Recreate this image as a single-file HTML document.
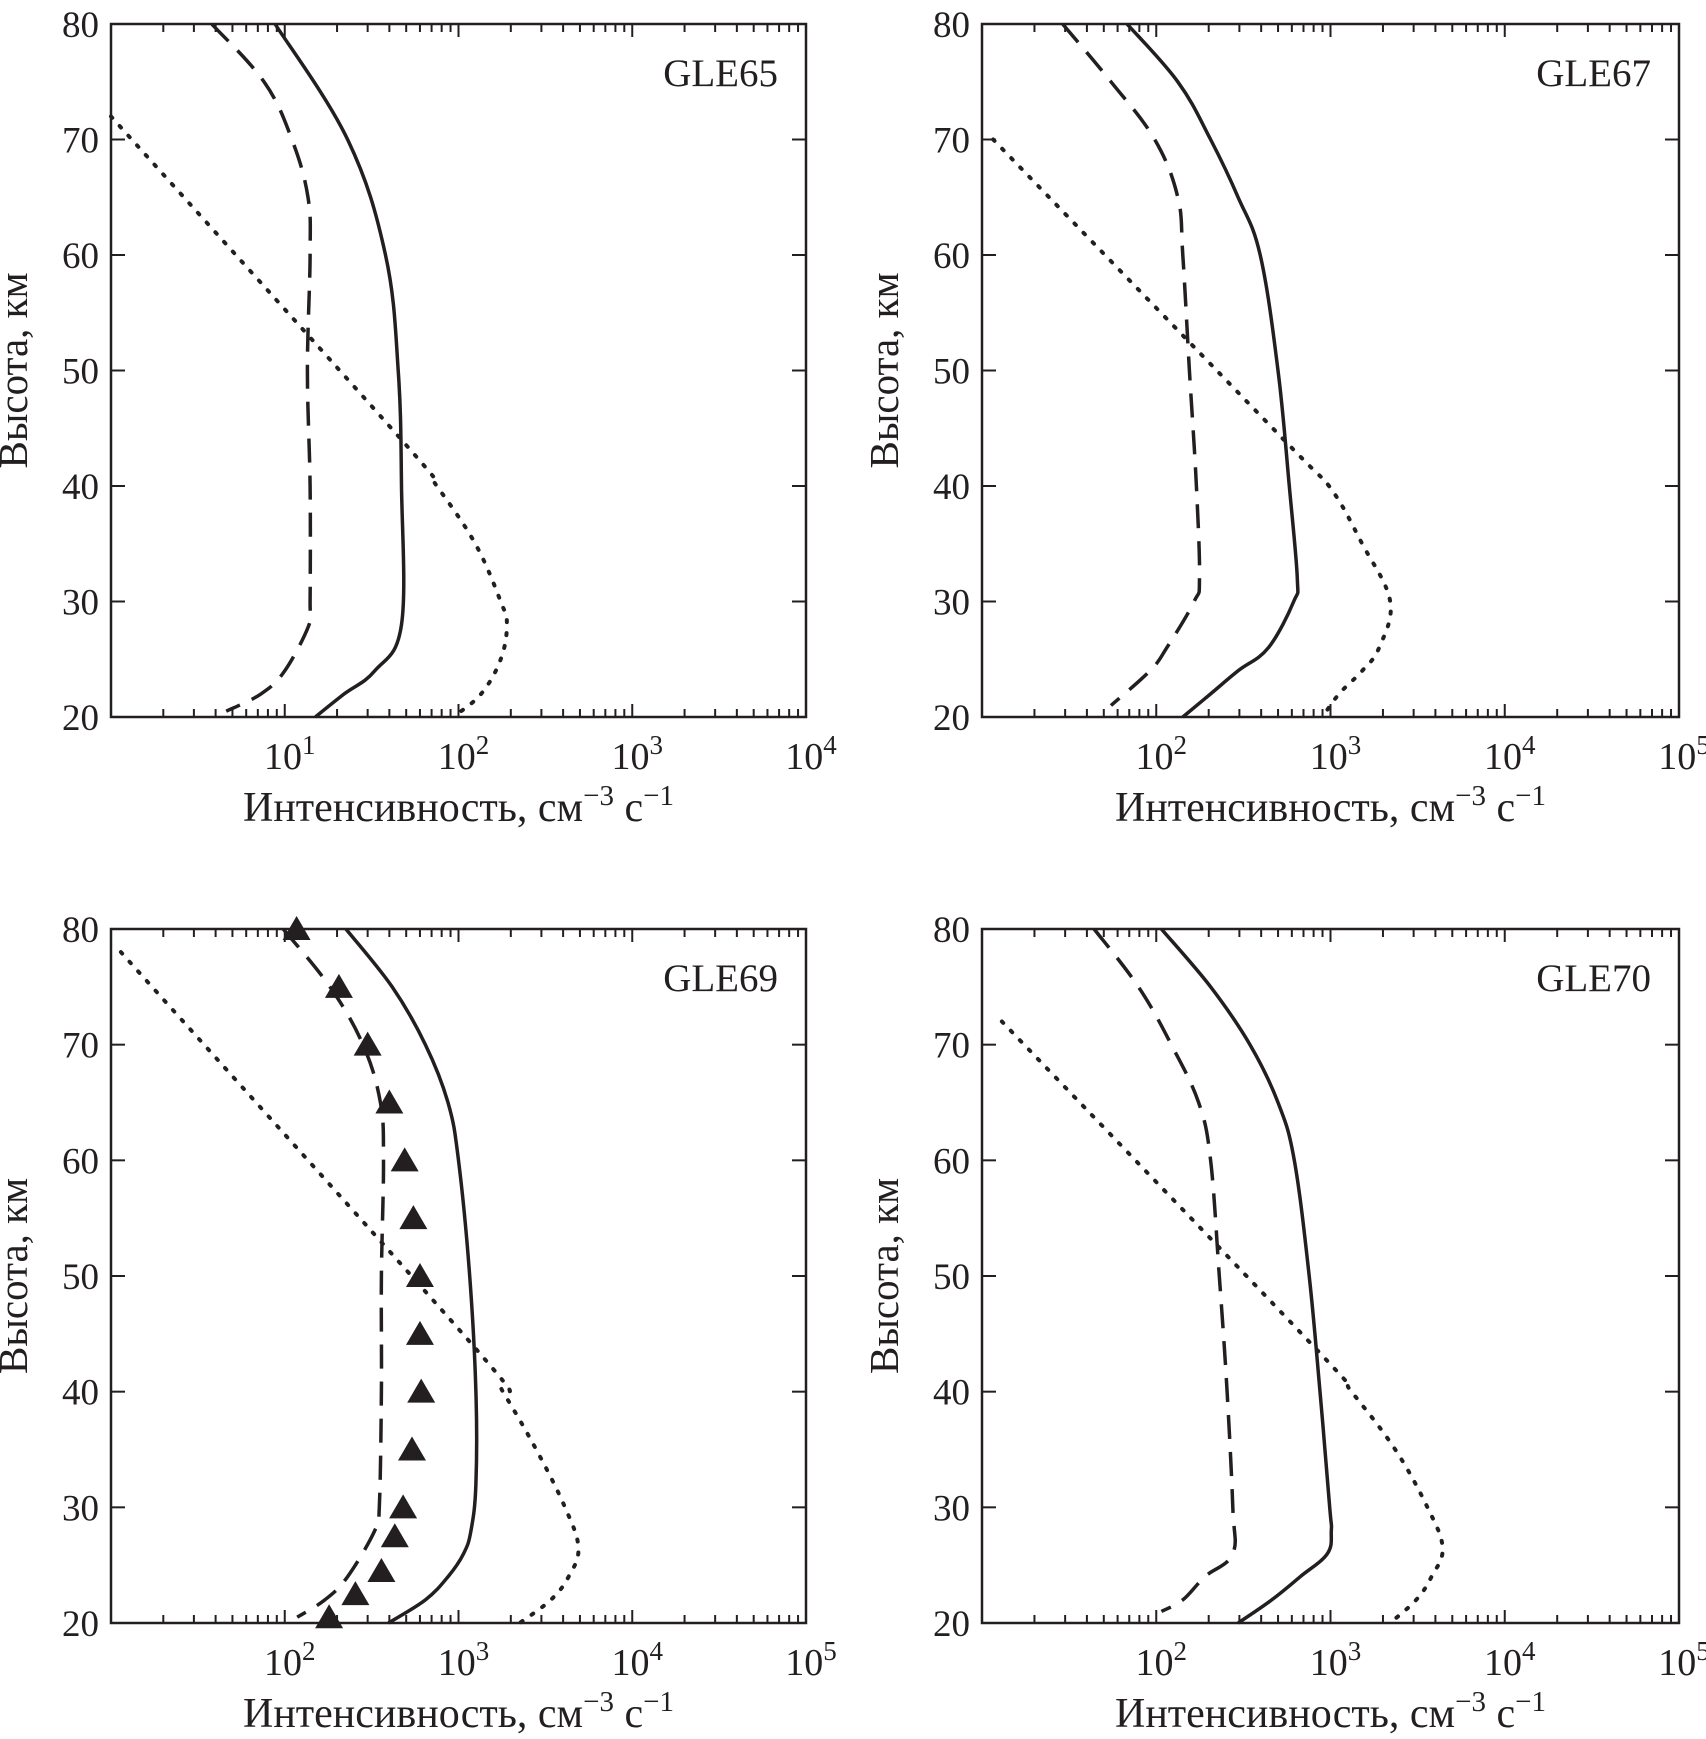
<!DOCTYPE html>
<html><head><meta charset="utf-8">
<style>
body{margin:0;background:#fff;}
svg{display:block;}
text{font-family:"Liberation Serif",serif;fill:#231f20;}
</style></head>
<body>
<svg id="chart" width="1706" height="1739" viewBox="0 0 1706 1739" xmlns="http://www.w3.org/2000/svg"></svg>
<script>
// GLE65
const g65Alt = [80,70,60,50,40,28,24,22,20];
const g65Solid = [8.8,23,38,45,47,47,33,22,15];
const g65DashAlt = [80,75,70,65,60,50,40,30,28,24,22,20.5];
const g65Dash = [3.8,7.6,11,13.6,14,13.5,14,14,13.8,10,7.3,4.6];
const g65DotAlt = [72,44,40,35,30,28,25,22,20];
const g65Dot = [1.0,47,75,125,175,190,175,135,93];
// GLE67
const g67Alt = [80,75,70,65,60,50,40,32,30,26,24,22,20];
const g67Solid = [68,133,205,295,395,500,580,645,615,440,295,205,142];
const g67DashAlt = [80,75,70,65,60,50,40,32,30,26,24,21];
const g67Dash = [29,55,98,133,142,155,170,177,165,115,92,55];
const g67DotAlt = [70,44,40,35,30,26,24,22,20];
const g67Dot = [11.6,540,980,1520,2200,1900,1520,1120,900];
// GLE69
const g69Alt = [80,75,70,65,60,50,40,32,28,26,24,22,20];
const g69Solid = [225,415,645,870,1000,1160,1260,1260,1180,1070,870,645,395];
const g69DashAlt = [80,75,70,65,60,50,40,30,28,24,22,20.5];
const g69Dash = [98,182,282,355,370,360,360,350,330,230,170,118];
const g69DotAlt = [78,44,40,35,30,26.5,24,22,20];
const g69Dot = [11.4,1210,1800,2800,4100,4900,4300,3400,2250];
const g69TriAlt = [80,75,70,65,60,55,50,45,40,35,30,27.5,24.5,22.5,20.5];
const g69Tri = [117,205,300,400,490,550,600,600,610,540,480,430,360,255,180];
// GLE70
const g70Alt = [80,75,70,65,60,50,40,30,28,26,24,22,20];
const g70Solid = [107,205,345,500,620,755,870,990,1010,960,670,460,295];
const g70DashAlt = [80,75,70,65,60,50,40,30,26,24,22,21];
const g70Dash = [44,79,122,175,205,230,255,275,275,190,142,107];
const g70DotAlt = [72,44,40,35,30,26.5,24,22,20];
const g70Dot = [13,790,1320,2350,3600,4400,3800,3100,2200];

const yTicks = [20,30,40,50,60,70,80];

const NS = "http://www.w3.org/2000/svg";
const svg = document.getElementById('chart');
function mk(tag, attrs, parent){
  const e = document.createElementNS(NS, tag);
  for (const k in attrs) e.setAttribute(k, attrs[k]);
  (parent||svg).appendChild(e);
  return e;
}
function smoothPath(pts){
  let d = 'M' + pts[0][0].toFixed(1) + ',' + pts[0][1].toFixed(1);
  for (let i = 0; i < pts.length - 1; i++) {
    const p0 = pts[i-1] || pts[i], p1 = pts[i], p2 = pts[i+1], p3 = pts[i+2] || p2;
    const t = 0.18;
    const c1 = [p1[0] + (p2[0]-p0[0])*t, p1[1] + (p2[1]-p0[1])*t];
    const c2 = [p2[0] - (p3[0]-p1[0])*t, p2[1] - (p3[1]-p1[1])*t];
    d += ` C${c1[0].toFixed(1)},${c1[1].toFixed(1)} ${c2[0].toFixed(1)},${c2[1].toFixed(1)} ${p2[0].toFixed(1)},${p2[1].toFixed(1)}`;
  }
  return d;
}

const panels = [
  {id:'gle65', name:'GLE65', x0:111, y0:24, w:695, h:693, lmin:0, lmax:4,
   solid:[g65Alt,g65Solid], dash:[g65DashAlt,g65Dash], dot:[g65DotAlt,g65Dot]},
  {id:'gle67', name:'GLE67', x0:982, y0:24, w:697, h:693, lmin:1, lmax:5,
   solid:[g67Alt,g67Solid], dash:[g67DashAlt,g67Dash], dot:[g67DotAlt,g67Dot]},
  {id:'gle69', name:'GLE69', x0:111, y0:929, w:695, h:694, lmin:1, lmax:5,
   solid:[g69Alt,g69Solid], dash:[g69DashAlt,g69Dash], dot:[g69DotAlt,g69Dot], tri:[g69TriAlt,g69Tri]},
  {id:'gle70', name:'GLE70', x0:982, y0:929, w:697, h:694, lmin:1, lmax:5,
   solid:[g70Alt,g70Solid], dash:[g70DashAlt,g70Dash], dot:[g70DotAlt,g70Dot]}
];

panels.forEach(p => {
  const g = mk('g', {});
  
  
  const X = v => p.x0 + (Math.log10(v) - p.lmin) / (p.lmax - p.lmin) * p.w;
  const Y = a => p.y0 + p.h - (a - 20) / 60 * p.h;

  const fr = mk('rect', {x:p.x0, y:p.y0, width:p.w, height:p.h, fill:'none', stroke:'#231f20', 'stroke-width':2.5}, g);
  
  

  for (let d = p.lmin; d < p.lmax; d++) {
    for (let m = 1; m <= 9; m++) {
      if (m === 1 && d === p.lmin) continue;
      const x = X(Math.pow(10, d) * m);
      const len = m === 1 ? 13 : 8;
      mk('line', {x1:x, x2:x, y1:p.y0+p.h, y2:p.y0+p.h-len, stroke:'#231f20', 'stroke-width':2}, g);
      mk('line', {x1:x, x2:x, y1:p.y0, y2:p.y0+len, stroke:'#231f20', 'stroke-width':2}, g);
    }
  }
  for (let d = p.lmin + 1; d <= p.lmax; d++) {
    const x = X(Math.pow(10, d));
    const t = mk('text', {x:x+5, y:p.y0+p.h+52, 'font-size':38, 'text-anchor':'middle'}, g);
    
    
    t.textContent = '10';
    const s = mk('tspan', {dy:-15, 'font-size':27}, t);
    s.textContent = d;
  }
  yTicks.forEach(a => {
    const y = Y(a);
    mk('line', {x1:p.x0, x2:p.x0+14, y1:y, y2:y, stroke:'#231f20', 'stroke-width':2}, g);
    mk('line', {x1:p.x0+p.w, x2:p.x0+p.w-14, y1:y, y2:y, stroke:'#231f20', 'stroke-width':2}, g);
    const t = mk('text', {x:p.x0-12, y:y+13, 'font-size':37, 'text-anchor':'end'}, g);
    
    
    t.textContent = a;
  });
  const yt = mk('text', {x:0, y:0, 'font-size':41, 'text-anchor':'middle', transform:`translate(${p.x0-84},${p.y0+p.h/2}) rotate(-90)`}, g);
  
  
  yt.textContent = 'Высота, км';
  const xt = mk('text', {x:p.x0+p.w/2, y:p.y0+p.h+104, 'font-size':42, 'text-anchor':'middle'}, g);
  
  
  xt.textContent = 'Интенсивность, см';
  const s1 = mk('tspan', {dy:-16, 'font-size':29}, xt); s1.textContent = '−3';
  const s2 = mk('tspan', {dy:16}, xt); s2.textContent = ' с';
  const s3 = mk('tspan', {dy:-16, 'font-size':29}, xt); s3.textContent = '−1';
  const lab = mk('text', {x:p.x0+p.w-28, y:p.y0+62, 'font-size':39, 'text-anchor':'end'}, g);
  
  
  lab.textContent = p.name;

  const line = (pair, style, nm) => {
    const [alts, vals] = pair;
    const pts = vals.map((v,i) => [X(v), Y(alts[i])]);
    const pa = mk('path', Object.assign({d:smoothPath(pts), fill:'none', stroke:'#231f20'}, style), g);
    
    
  };
  line(p.solid, {'stroke-width':3.5}, 'solid-curve');
  line(p.dash, {'stroke-width':3.5, 'stroke-dasharray':'24 13'}, 'dashed-curve');
  line(p.dot, {'stroke-width':4, 'stroke-dasharray':'2 11', 'stroke-linecap':'round'}, 'dotted-curve');
  if (p.tri) {
    const [alts, vals] = p.tri;
    vals.forEach((v,i) => {
      const x = X(v), y = Y(alts[i]);
      const tr = mk('polygon', {points:`${x},${y-13} ${x-14},${y+11} ${x+14},${y+11}`, fill:'#231f20'}, g);
      
      
    });
  }
});
</script>
</body></html>
